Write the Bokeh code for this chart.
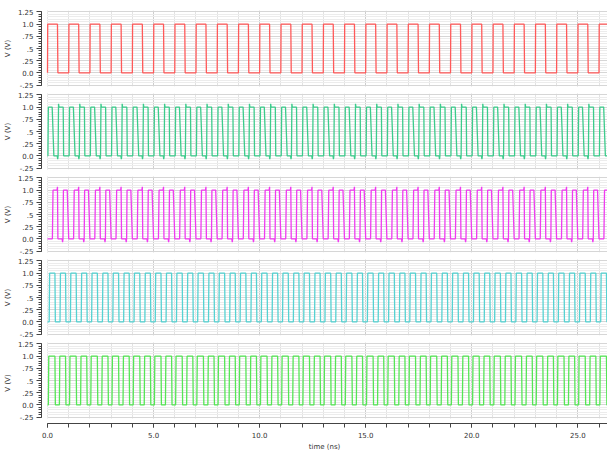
import numpy as np
from bokeh.plotting import figure
from bokeh.layouts import column
from bokeh.models import FixedTicker, Range1d
from bokeh.embed import file_html
from bokeh.resources import INLINE

# ---------------- data ----------------
x_end_ns = 26.4
y_ticks = [-0.25, 0.0, 0.25, 0.5, 0.75, 1.0, 1.25]
y_tick_labels = ["-.25", "0.0", ".25", ".5", ".75", "1.0", "1.25"]
x_ticks = [0, 5, 10, 15, 20, 25]
x_tick_labels = ["0.0", "5.0", "10.0", "15.0", "20.0", "25.0"]

# start of every 1-ns cycle shown (ns)
cycle_starts = [0, 1, 2, 3, 4, 5, 6, 7, 8, 9, 10, 11, 12, 13,
                14, 15, 16, 17, 18, 19, 20, 21, 22, 23, 24, 25, 26]

# one 1-ns cycle of each trace: offset (ns), voltage (V)
red_t = [0.00, 0.01, 0.47, 0.49, 1.00]
red_v = [0.00, 1.00, 1.00, 0.00, 0.00]

teal_t = [0.00, 0.02, 0.04, 0.06, 0.22, 0.30, 0.46, 0.48, 0.50, 0.52, 0.54, 0.74, 0.76, 1.00]
teal_v = [0.00, 0.00, 1.00, 1.00, 1.00, 0.00, 0.00, -0.07, 0.00, 1.07, 1.00, 1.00, 0.00, 0.00]

mag_t = [0.00, 0.23, 0.26, 0.45, 0.47, 0.49, 0.69, 0.71, 0.73, 0.75, 0.93, 1.00]
mag_v = [0.00, 0.00, 1.00, 1.00, 1.07, 0.00, 0.00, -0.07, 0.00, 1.00, 1.00, 0.00]

cyan_t = [0.00, 0.08, 0.10, 0.35, 0.37, 0.59, 0.61, 0.85, 0.87, 1.00]
cyan_v = [0.00, 0.00, 1.00, 1.00, 0.00, 0.00, 1.00, 1.00, 0.00, 0.00]

green_t = [0.00, 0.04, 0.06, 0.35, 0.37, 0.56, 0.58, 0.85, 0.87, 1.00]
green_v = [0.00, 0.00, 1.00, 1.00, 0.00, 0.00, 1.00, 1.00, 0.00, 0.00]

traces = [
    (red_t, red_v, "#ff5a5a"),
    (teal_t, teal_v, "#3ccc8c"),
    (mag_t, mag_v, "#f03cf0"),
    (cyan_t, cyan_v, "#55d2d2"),
    (green_t, green_v, "#55e655"),
]

# ---------------- drawing ----------------
FONT = "DejaVu Sans"
X0 = -0.283
PX_PER_V = 48.7
y_minor = [round(v, 2) for v in np.arange(-0.25, 1.2501, 0.05)]
x_minor = list(range(0, 27))


def build(shape_t, shape_v):
    ts, vs = [], []
    for c in cycle_starts:
        for t, v in zip(shape_t, shape_v):
            ts.append(c + t)
            vs.append(v)
    return ts, vs


figs = []
for i, (st, sv, col) in enumerate(traces):
    last = i == len(traces) - 1
    first = i == 0
    y0 = -0.38 if last else -0.28
    y1 = 1.28
    fh = int(round((y1 - y0) * PX_PER_V))
    p = figure(frame_width=566, frame_height=fh,
               x_range=Range1d(X0, x_end_ns), y_range=Range1d(y0, y1),
               output_backend="svg", toolbar_location=None,
               x_axis_location="below" if last else None,
               min_border_left=34, min_border_right=0,
               min_border_top=10 if first else 2,
               min_border_bottom=0 if last else 5)
    p.outline_line_color = None
    p.background_fill_color = "white"
    p.border_fill_color = "white"

    # grid
    p.xgrid.ticker = FixedTicker(ticks=x_ticks, minor_ticks=x_minor)
    p.xgrid.grid_line_color = "#cdcdcd"
    p.xgrid.minor_grid_line_color = "#e2e2e2"
    p.ygrid.ticker = FixedTicker(ticks=y_ticks, minor_ticks=y_minor)
    p.ygrid.grid_line_color = "#d6d6d6"
    p.ygrid.minor_grid_line_color = "#ececec"

    # white gutter between axis and plotting area
    p.quad(left=[X0], right=[0], bottom=[y0], top=[y1], fill_color="white", line_color=None)
    if last:
        p.quad(left=[X0], right=[x_end_ns], bottom=[y0], top=[-0.28], fill_color="white", line_color=None)

    ts, vs = build(st, sv)
    p.line(ts, vs, line_color=col, line_width=1.3)

    ya = p.yaxis[0]
    ya.ticker = FixedTicker(ticks=y_ticks, minor_ticks=y_minor)
    ya.major_label_overrides = {t: l for t, l in zip(y_ticks, y_tick_labels)}
    ya.bounds = (-0.25, 1.25)
    ya.axis_label = "V (V)"
    ya.axis_label_text_font = FONT
    ya.axis_label_text_font_size = "7px"
    ya.axis_label_text_font_style = "normal"
    ya.axis_label_text_color = "#333333"
    ya.axis_label_standoff = 3
    ya.major_label_text_font = FONT
    ya.major_label_text_font_size = "7px"
    ya.major_label_text_color = "#333333"
    ya.major_label_standoff = 3
    ya.major_tick_out = 5
    ya.major_tick_in = 0
    ya.minor_tick_out = 3
    ya.minor_tick_in = 0
    ya.axis_line_color = "#444444"
    ya.major_tick_line_color = "#444444"
    ya.minor_tick_line_color = "#444444"

    if last:
        xa = p.xaxis[0]
        xa.ticker = FixedTicker(ticks=x_ticks, minor_ticks=x_minor)
        xa.major_label_overrides = {t: l for t, l in zip(x_ticks, x_tick_labels)}
        xa.bounds = (0, x_end_ns)
        xa.axis_label = "time (ns)"
        xa.axis_label_text_font = FONT
        xa.axis_label_text_font_size = "7px"
        xa.axis_label_text_font_style = "normal"
        xa.axis_label_text_color = "#333333"
        xa.axis_label_standoff = 2
        xa.major_label_text_font = FONT
        xa.major_label_text_font_size = "7px"
        xa.major_label_text_color = "#333333"
        xa.major_label_standoff = 4
        xa.major_tick_out = 4
        xa.major_tick_in = 0
        xa.minor_tick_out = 4
        xa.minor_tick_in = 0
        xa.axis_line_color = "#444444"
        xa.major_tick_line_color = "#444444"
        xa.minor_tick_line_color = "#444444"
    figs.append(p)

layout = column(*figs, spacing=0)
open("out.html", "w").write(file_html(layout, INLINE))
